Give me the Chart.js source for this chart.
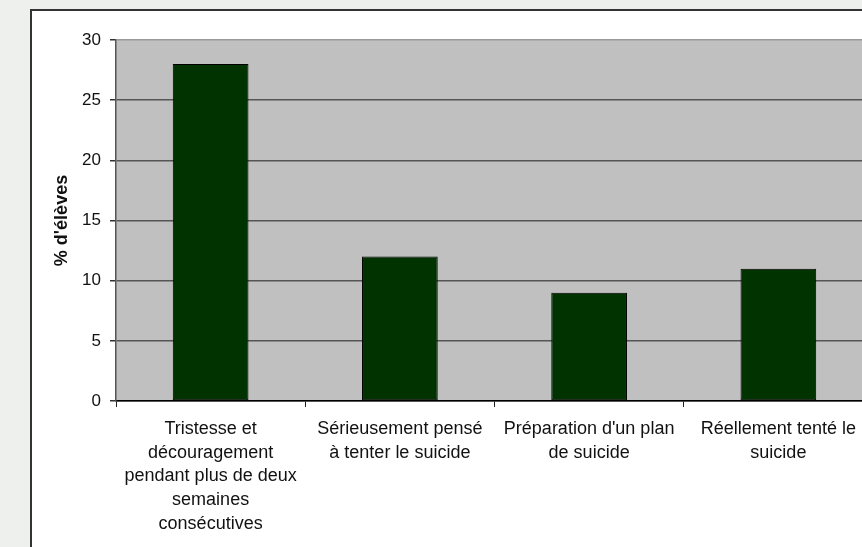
<!DOCTYPE html>
<html>
<head>
<meta charset="utf-8">
<script src="https://cdn.jsdelivr.net/npm/chart.js@4/dist/chart.umd.min.js"></script>
<style>
  html, body { margin: 0; padding: 0; width: 862px; height: 547px; overflow: hidden; background: #edf0ed; }
  #boite { position: absolute; left: 30px; top: 9px; width: 900px; height: 600px; background: #fff; border-left: 2px solid #333; border-top: 2px solid #333; }
  #graph { position: absolute; left: 0; top: 0; }
</style>
</head>
<body>
<div id="boite"></div>
<canvas id="graph" width="900" height="547"></canvas>
<script>
// catégories (axe X) et pourcentages
const categories = [
    ['Tristesse et', 'découragement', 'pendant plus de deux', 'semaines', 'consécutives'],
    ['Sérieusement pensé', 'à tenter le suicide'],
    ["Préparation d'un plan", 'de suicide'],
    ['Réellement tenté le', 'suicide']
];
const pourcentages = [28, 12, 9, 11];
const graduations = [0, 5, 10, 15, 20, 25, 30];

// fond gris de la zone de tracé
const fondGris = {
    id: 'fondGris',
    beforeDraw(chart) {
        const { ctx, chartArea: a } = chart;
        ctx.save();
        ctx.fillStyle = '#c0c0c0';
        ctx.fillRect(a.left, a.top, a.right - a.left, a.bottom - a.top);
        ctx.restore();
    }
};

const canva = document.getElementById('graph').getContext('2d');
new Chart(canva, {
    type: 'bar',
    data: {
        labels: categories,
        datasets: [{
            label: "% d'élèves",
            data: pourcentages,
            backgroundColor: '#003300',
            borderColor: '#000',
            borderWidth: 1,
            borderSkipped: false,
            barPercentage: 0.4,
            categoryPercentage: 1
        }]
    },
    options: {
        responsive: false,
        animation: false,
        layout: { padding: { left: 0, right: 27, top: 40, bottom: 0 } },
        plugins: { legend: { display: false }, tooltip: { enabled: false } },
        scales: {
            x: {
                offset: true,
                afterFit: s => { s.height = 146; },
                grid: { offset: true, drawOnChartArea: false, tickLength: 6, tickColor: '#222' },
                border: { color: '#000', width: 1.5 },
                ticks: {
                    color: '#111',
                    padding: 10,
                    maxRotation: 0,
                    autoSkip: false,
                    font: { family: 'Liberation Sans, Arial, sans-serif', size: 18, lineHeight: 1.32 }
                }
            },
            y: {
                min: 0,
                max: 30,
                afterFit: s => { s.width = 116; },
                afterBuildTicks: s => { s.ticks = graduations.map(v => ({ value: v })); },
                grid: {
                    color: ctx => ctx.tick && ctx.tick.value === 30 ? '#9a9a9a' : '#555',
                    lineWidth: 1.5,
                    tickLength: 6,
                    tickColor: '#333'
                },
                border: { color: '#555', width: 1.5 },
                title: {
                    display: true,
                    text: "% d'élèves",
                    color: '#111',
                    padding: { top: 51, bottom: 0 },
                    font: { family: 'Liberation Sans, Arial, sans-serif', size: 18, weight: 'bold' }
                },
                ticks: {
                    color: '#111',
                    padding: 9,
                    font: { family: 'Liberation Sans, Arial, sans-serif', size: 17 }
                }
            }
        }
    },
    plugins: [fondGris]
});
</script>
</body>
</html>
